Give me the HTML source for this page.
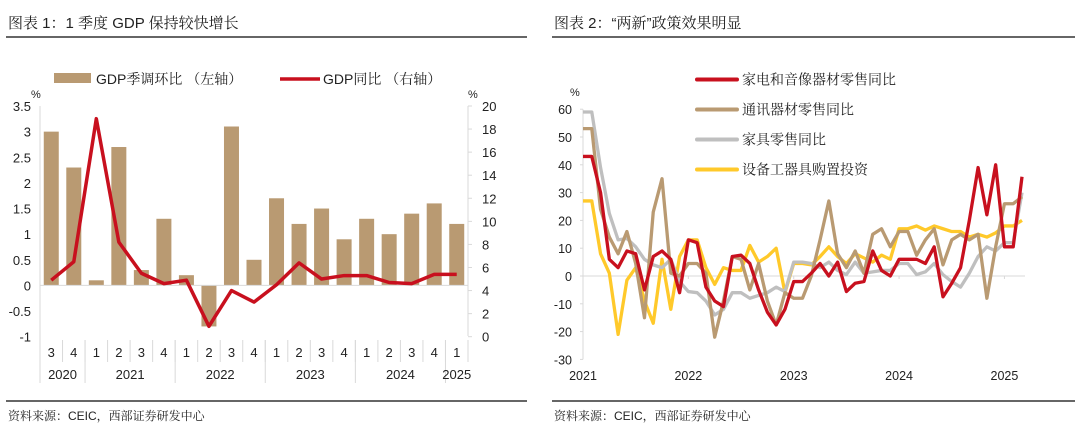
<!DOCTYPE html>
<html><head><meta charset="utf-8"><style>
body{margin:0;background:#fff;width:1080px;height:436px;overflow:hidden;font-family:"Liberation Sans","Noto Serif CJK SC",serif;}
svg text{font-family:"Liberation Sans","Noto Serif CJK SC",serif;}
</style></head><body>
<svg id="s" width="1080" height="436" xmlns="http://www.w3.org/2000/svg">
<text x="8" y="28" font-size="15" fill="#222">图表 1：1 季度 GDP 保持较快增长</text>
<line x1="6" y1="37" x2="527" y2="37" stroke="#333" stroke-width="1.5"/>
<line x1="6" y1="401" x2="527" y2="401" stroke="#333" stroke-width="1.5"/>
<text x="8" y="420" font-size="12" fill="#222">资料来源：CEIC，西部证券研发中心</text>
<text x="554" y="28" font-size="15" fill="#222">图表 2：“两新”政策效果明显</text>
<line x1="552" y1="37" x2="1075" y2="37" stroke="#333" stroke-width="1.5"/>
<line x1="552" y1="401" x2="1075" y2="401" stroke="#333" stroke-width="1.5"/>
<text x="554" y="420" font-size="12" fill="#222">资料来源：CEIC，西部证券研发中心</text>
<g id="L"></g><g id="R"></g>
</svg>
<script>
const quarters=["3","4","1","2","3","4","1","2","3","4","1","2","3","4","1","2","3","4","1"];
const years=["2020","2021","2022","2023","2024","2025"];
const yearSpans=[2,4,4,4,4,1];
const qoq=[3.0,2.3,0.1,2.7,0.3,1.3,0.2,-0.8,3.1,0.5,1.7,1.2,1.5,0.9,1.3,1.0,1.4,1.6,1.2];
const yoy=[4.9,6.5,18.9,8.2,5.5,4.6,4.9,0.9,4.0,3.0,4.5,6.4,5.0,5.3,5.3,4.7,4.6,5.4,5.4];
const leftTicks=[3.5,3,2.5,2,1.5,1,0.5,0,-0.5,-1];
const rightTicks=[20,18,16,14,12,10,8,6,4,2,0];

const months=51;
const xLabels=["2021","2022","2023","2024","2025"];
const appliance=[43,43,30,6,3,9,8,-5,7,9,6,-6,13,12,-4,-9,-11,7,7.5,4.5,-5,-13,-17.6,-12,-2,-2,1,4.5,0,5,-5.6,-2.6,-2,9,2,0,6,6,6,4.5,10.5,-7.5,-2.6,3,20,39,22,40,10.5,10.5,35.7];
const telecom=[53,53,24,14,8,16,4.5,-15,23,35,1,0,4.5,4.5,1,-22,-9,7,6,-5,4.5,-9,-17.6,-6,-8,-8,0,13,27,8,3,9,1,15,17,10.5,16,16,7.5,13,17,4,13,15,13,15,-8,10.5,26,26,28.5];
const furniture=[59,59,39,22.5,13,13.5,10.5,6,4,3,6,-2,-5.6,-6,-9,-14,-12,-6,-6,-8,-7,-6,-4,-5.6,5,5,4.5,3,5,2,0.5,5,1,1.5,2,2,4.5,4.5,0.5,1.5,4.5,0.5,-2,-4,1,7,10.5,9,12,12,30];
const equipment=[27,27,8,1,-21,-1.5,3,-9,-17,6,-12,7,13,13,3,-3,3,2,2,11,5,7,10,-6,4.5,4.5,4,7,10.5,7,4.5,8,6.5,5,7.5,6,17,17,18,16.5,18,17,16,16,14,15,14,15.5,18,18,20];
const rTicks=[60,50,40,30,20,10,0,-10,-20,-30];

const NS="http://www.w3.org/2000/svg";
function mk(p,t,a){const e=document.createElementNS(NS,t);for(const k in a)e.setAttribute(k,a[k]);p.appendChild(e);return e;}
function txt(p,x,y,s,o){const e=mk(p,"text",Object.assign({x:x,y:y,"font-size":12,fill:"#222"},o||{}));e.textContent=s;return e;}

// LEFT
const L=document.getElementById("L");
const lx0=40,lx1=468,lyT=106,lyB=336.7;
const yL=v=>lyB-(v+1)/4.5*(lyB-lyT);
const yR=v=>lyB-v/20*(lyB-lyT);
const cw=(lx1-lx0)/quarters.length;
const xc=i=>lx0+cw*(i+0.5);
mk(L,"line",{x1:lx0,y1:lyT,x2:lx0,y2:383,stroke:"#d9d9d9"});
mk(L,"line",{x1:lx1,y1:lyT,x2:lx1,y2:336,stroke:"#d9d9d9"});
leftTicks.forEach(v=>{const t=txt(L,31,yL(v)+5,String(v),{"text-anchor":"end","font-size":13});

});
rightTicks.forEach(v=>{const t=txt(L,482,yR(v)+5,String(v),{"font-size":13});


mk(L,"line",{x1:lx1,y1:yR(v),x2:lx1+4,y2:yR(v),stroke:"#d9d9d9"});});
txt(L,31,98,"%",{"font-size":11});txt(L,468,98,"%",{"font-size":11});
qoq.forEach((v,i)=>{const b=mk(L,"rect",{x:xc(i)-7.5,y:Math.min(yL(v),yL(0)),width:15,height:Math.abs(yL(v)-yL(0)),fill:"#b99a72"});

});
mk(L,"line",{x1:lx0,y1:yL(0),x2:lx1,y2:yL(0),stroke:"#d9d9d9"});
const lp=mk(L,"polyline",{points:yoy.map((v,i)=>xc(i)+","+yR(v)).join(" "),fill:"none",stroke:"#c8101e","stroke-width":3.5,"stroke-linejoin":"round"});


quarters.forEach((q,i)=>{const t=txt(L,xc(i),357,q,{"text-anchor":"middle","font-size":13});


mk(L,"line",{x1:lx0+cw*(i+1),y1:340,x2:lx0+cw*(i+1),y2:362,stroke:"#d9d9d9"});});
let acc=0;years.forEach((y,k)=>{const s=acc;acc+=yearSpans[k];
const t=txt(L,lx0+cw*(s+acc)/2,379,y,{"text-anchor":"middle","font-size":13});


if(k<years.length-1)mk(L,"line",{x1:lx0+cw*acc,y1:340,x2:lx0+cw*acc,y2:383,stroke:"#d9d9d9"});});
mk(L,"rect",{x:54,y:73,width:37,height:10,fill:"#b99a72",});
txt(L,96,84,"GDP季调环比 （左轴）",{"font-size":14,});
mk(L,"line",{x1:280,y1:79,x2:320,y2:79,stroke:"#c8101e","stroke-width":3.5,});
txt(L,323,84,"GDP同比 （右轴）",{"font-size":14,});

// RIGHT
const R=document.getElementById("R");
const rx0=583,step=8.78;
const ry=v=>276-2.78*v;
const xm=i=>rx0+step*i;
mk(R,"line",{x1:rx0,y1:ry(60),x2:rx0,y2:ry(-30),stroke:"#d9d9d9"});
mk(R,"line",{x1:rx0,y1:ry(0),x2:1025,y2:ry(0),stroke:"#d9d9d9"});
rTicks.forEach(v=>{const t=txt(R,572,ry(v)+5,String(v),{"text-anchor":"end","font-size":12.5});


mk(R,"line",{x1:rx0-3,y1:ry(v),x2:rx0,y2:ry(v),stroke:"#d9d9d9"});});
txt(R,570,96,"%",{"font-size":11});
xLabels.forEach((s,k)=>{const x=xm(k*12);const t=txt(R,x,380,s,{"text-anchor":"middle","font-size":12.5});


mk(R,"line",{x1:x,y1:ry(0),x2:x,y2:ry(0)+3,stroke:"#d9d9d9"});});
const series=[[equipment,"#ffc92a","equipment-line"],[furniture,"#bfbfbf","furniture-line"],[telecom,"#b99a72","telecom-line"],[appliance,"#c8101e","appliance-line"]];
series.forEach(([d,c,n])=>{const p=mk(R,"polyline",{points:d.map((v,i)=>xm(i)+","+ry(v)).join(" "),fill:"none",stroke:c,"stroke-width":3.3,"stroke-linejoin":"round"});

});
const leg=[["家电和音像器材零售同比","#c8101e",79.5],["通讯器材零售同比","#b99a72",109.5],["家具零售同比","#bfbfbf",139.5],["设备工器具购置投资","#ffc92a",169.5]];
leg.forEach(([s,c,y])=>{mk(R,"line",{x1:697,y1:y,x2:737,y2:y,stroke:c,"stroke-width":4,"stroke-linecap":"round"});
const t=txt(R,742,y+5,s,{"font-size":14});

});
</script>
</body></html>
